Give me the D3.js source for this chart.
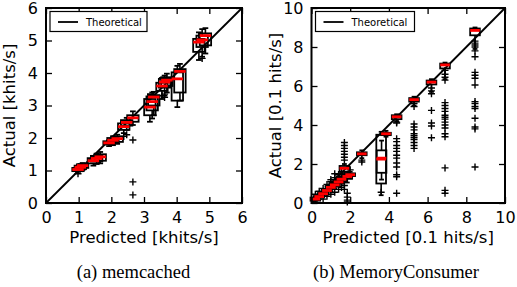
<!DOCTYPE html>
<html>
<head>
    <title>Predicted vs actual</title>
    <style>
        body { margin: 0; background: #fff; }
        svg { display: block; }
        .tick text { font-family: "DejaVu Sans", sans-serif; }
    </style>
    <script src="https://d3js.org/d3.v7.min.js"></script>
</head>
<body>
<svg id="chart"></svg>
<script>
    // memcached boxes (one entry per predicted position), khits/s
    const memPos = [0.98, 1.05, 1.12, 1.45, 1.55, 1.66, 1.93, 2.05, 2.18, 2.38, 2.47, 2.66,
        3.18, 3.25, 3.30, 3.55, 3.63, 3.70, 4.02, 4.10, 4.68, 4.78, 4.88];
    const memLo = [0.92, 0.98, 1.02, 1.15, 1.20, 1.22, 1.75, 1.78, 1.82, 2.15, 2.25, 2.40,
        2.50, 2.60, 2.70, 3.20, 3.30, 3.40, 2.95, 3.15, 4.40, 4.50, 4.60];
    const memQ1 = [0.98, 1.04, 1.08, 1.22, 1.28, 1.30, 1.80, 1.85, 1.88, 2.25, 2.38, 2.50,
        2.70, 2.85, 3.00, 3.45, 3.55, 3.60, 3.15, 3.40, 4.65, 4.80, 4.85];
    const memMed = [1.03, 1.10, 1.15, 1.30, 1.37, 1.42, 1.85, 1.93, 1.98, 2.35, 2.48, 2.62,
        2.95, 3.12, 3.26, 3.60, 3.72, 3.78, 3.82, 4.05, 4.95, 5.02, 5.15];
    const memQ3 = [1.08, 1.15, 1.19, 1.38, 1.45, 1.50, 1.90, 2.00, 2.05, 2.45, 2.55, 2.70,
        3.20, 3.28, 3.32, 3.70, 3.82, 3.87, 4.02, 4.12, 5.05, 5.15, 5.22];
    const memHi = [1.12, 1.20, 1.23, 1.45, 1.52, 1.57, 1.93, 2.05, 2.10, 2.52, 2.62, 2.82,
        3.35, 3.40, 3.42, 3.85, 3.92, 3.98, 4.22, 4.28, 5.25, 5.35, 5.38];
    const memFliers = [[0.90], [], [], [], [], [], [], [], [], [2.05], [2.10], [1.94, 0.65, 0.25],
        [], [], [], [3.30], [3.25, 3.35], [], [], [], [], [4.45], []];

    // MemoryConsumer boxes, 0.1 hits/s
    const mcPos = [0.2, 0.4, 0.6, 0.8, 1.0, 1.2, 1.4, 1.55, 1.7, 1.85, 2.0, 2.6,
        3.6, 3.62, 3.85, 4.4, 5.3, 6.2, 6.9, 8.45];
    const mcLo = [0.05, 0.20, 0.35, 0.48, 0.60, 0.72, 0.85, 1.00, 1.30, 1.05, 1.25, 2.30,
        0.40, 1.20, 3.40, 4.20, 5.00, 5.70, 6.35, 7.90];
    const mcQ1 = [0.12, 0.28, 0.42, 0.58, 0.72, 0.85, 1.00, 1.12, 1.60, 1.25, 1.38, 2.45,
        1.00, 1.55, 3.48, 4.30, 5.20, 6.08, 6.90, 8.60];
    const mcMed = [0.20, 0.33, 0.48, 0.64, 0.80, 0.93, 1.08, 1.22, 1.78, 1.36, 1.45, 2.52,
        2.25, 2.30, 3.55, 4.42, 5.30, 6.20, 7.08, 8.85];
    const mcQ3 = [0.28, 0.40, 0.55, 0.72, 0.88, 1.02, 1.18, 1.32, 1.90, 1.45, 1.52, 2.60,
        3.50, 2.70, 3.60, 4.50, 5.38, 6.28, 7.15, 8.95];
    const mcHi = [0.35, 0.50, 0.68, 0.85, 1.02, 1.20, 1.35, 1.50, 2.00, 1.60, 1.60, 2.70,
        3.65, 3.20, 3.70, 4.55, 5.45, 6.35, 7.20, 9.00];
    const mcFliers = [[0.45], [0.6], [0.75, 0.2], [0.95, 0.35], [1.1, 1.2, 0.45], [1.5, 1.3, 0.55], [1.45, 0.7], [1.6, 0.8],
        [2.2, 2.35, 2.5, 2.65, 2.8, 2.95, 3.1, 0.9, 0.7],
        [0.5, 0.3, 0.15, 0.05], [1.7], [2.2, 2.1],
        [0.55], [], [],
        [4.15, 4.1, 3.3, 3.15, 2.95, 2.8, 2.65, 2.45, 2.3, 2.05, 1.85, 1.45, 1.35, 0.5],
        [5.1, 4.95, 4.05, 3.9, 3.75, 3.55, 3.45, 3.35, 3.25, 3.1, 2.95, 2.8],
        [5.9, 5.75, 5.6, 4.75, 4.1, 3.95, 3.35],
        [6.8, 6.6, 6.45, 6.3, 5.15, 5.0, 4.85, 4.7, 4.5, 4.4, 4.3, 4.15, 4.0, 3.85, 3.55, 3.4, 1.8, 0.65, 0.5],
        [8.3, 8.2, 8.1, 8.0, 7.8, 7.5, 6.7, 6.55, 6.4, 6.05, 5.2, 5.1, 4.95, 4.85, 4.35, 3.9, 3.8, 1.85]];

    const memTicks = [0, 1, 2, 3, 4, 5, 6];
    const mcTicks = [0, 2, 4, 6, 8, 10];

    const svg = d3.select('#chart').attr('width', 517).attr('height', 287);

    function panel(opts) {
        const x = d3.scaleLinear().domain([0, opts.max]).range([opts.left, opts.right]);
        const y = d3.scaleLinear().domain([0, opts.max]).range([203, 8]);
        const g = svg.append('g');

        // theoretical line
        g.append('line')
            .attr('x1', x(0)).attr('y1', y(0))
            .attr('x2', x(opts.max)).attr('y2', y(opts.max))
            .attr('stroke', '#000').attr('stroke-width', 1.8);

        const half = opts.width / 2;
        const boxes = opts.pos.map((p, i) => ({
            p, lo: opts.lo[i], q1: opts.q1[i], med: opts.med[i], q3: opts.q3[i], hi: opts.hi[i], fl: opts.fliers[i]
        }));

        const b = g.selectAll('.box').data(boxes).enter().append('g').attr('class', 'box');
        // whiskers
        b.append('line').attr('x1', d => x(d.p)).attr('x2', d => x(d.p))
            .attr('y1', d => y(d.q1)).attr('y2', d => y(d.lo))
            .attr('stroke', '#000').attr('stroke-width', 1.6);
        b.append('line').attr('x1', d => x(d.p)).attr('x2', d => x(d.p))
            .attr('y1', d => y(d.q3)).attr('y2', d => y(d.hi))
            .attr('stroke', '#000').attr('stroke-width', 1.6);
        // caps
        b.append('line').attr('x1', d => x(d.p - half / 2)).attr('x2', d => x(d.p + half / 2))
            .attr('y1', d => y(d.lo)).attr('y2', d => y(d.lo))
            .attr('stroke', '#000').attr('stroke-width', 1.8);
        b.append('line').attr('x1', d => x(d.p - half / 2)).attr('x2', d => x(d.p + half / 2))
            .attr('y1', d => y(d.hi)).attr('y2', d => y(d.hi))
            .attr('stroke', '#000').attr('stroke-width', 1.8);
        // box
        b.append('rect')
            .attr('x', d => x(d.p - half)).attr('width', d => x(d.p + half) - x(d.p - half))
            .attr('y', d => y(d.q3)).attr('height', d => y(d.q1) - y(d.q3))
            .attr('fill', 'none').attr('stroke', '#000').attr('stroke-width', 1.8);
        // fliers
        b.each(function (d) {
            d3.select(this).selectAll('.fl').data(d.fl).enter().append('path')
                .attr('d', v => `M${x(d.p) - 3.5},${y(v)}h7M${x(d.p)},${y(v) - 3.5}v7`)
                .attr('stroke', '#000').attr('stroke-width', 1.4);
        });
        // medians on top
        g.selectAll('.med').data(boxes).enter().append('line')
            .attr('x1', d => x(d.p - half)).attr('x2', d => x(d.p + half))
            .attr('y1', d => y(d.med)).attr('y2', d => y(d.med))
            .attr('stroke', '#ff0000').attr('stroke-width', 2.8);

        // axes with inward ticks on all four sides
        const fmt = d3.format('d');
        g.append('g').attr('transform', 'translate(0,203)')
            .call(d3.axisBottom(x).tickValues(opts.ticks).tickFormat(fmt).tickSize(-6).tickPadding(9));
        g.append('g').attr('transform', 'translate(0,8)')
            .call(d3.axisTop(x).tickValues(opts.ticks).tickFormat('').tickSize(-6));
        g.append('g').attr('transform', `translate(${opts.left},0)`)
            .call(d3.axisLeft(y).tickValues(opts.ticks).tickFormat(fmt).tickSize(-6).tickPadding(8));
        g.append('g').attr('transform', `translate(${opts.right},0)`)
            .call(d3.axisRight(y).tickValues(opts.ticks).tickFormat('').tickSize(-6));
        g.selectAll('.domain').remove();
        g.selectAll('.tick line').attr('stroke', '#000').attr('stroke-width', 1.3);
        g.selectAll('.tick text').attr('font-size', 16).attr('fill', '#000');

        g.append('rect')
            .attr('x', opts.left).attr('y', 8)
            .attr('width', opts.right - opts.left).attr('height', 195)
            .attr('fill', 'none').attr('stroke', '#000').attr('stroke-width', 2);

        // axis labels
        g.append('text')
            .attr('x', (opts.left + opts.right) / 2).attr('y', 243)
            .attr('text-anchor', 'middle')
            .attr('font-family', 'DejaVu Sans, sans-serif').attr('font-size', 16.5)
            .text(opts.xLabel);
        g.append('text')
            .attr('transform', `translate(${opts.left - 31},${105.5}) rotate(-90)`)
            .attr('text-anchor', 'middle')
            .attr('font-family', 'DejaVu Sans, sans-serif').attr('font-size', 16.5)
            .text(opts.yLabel);

        // legend
        const lg = g.append('g');
        lg.append('rect')
            .attr('x', opts.left + 4).attr('y', 11.5).attr('width', opts.legendW).attr('height', 20)
            .attr('fill', '#fff').attr('stroke', '#000').attr('stroke-width', 1.2);
        lg.append('line')
            .attr('x1', opts.left + 12).attr('x2', opts.left + 32)
            .attr('y1', 22).attr('y2', 22)
            .attr('stroke', '#000').attr('stroke-width', 1.8);
        lg.append('text')
            .attr('x', opts.left + 40).attr('y', 25.5)
            .attr('font-family', 'DejaVu Sans, sans-serif').attr('font-size', 10)
            .text('Theoretical');

        // caption
        g.append('text')
            .attr('x', opts.capX).attr('y', 278)
            .attr('text-anchor', 'middle')
            .attr('font-family', 'Liberation Serif, serif').attr('font-size', 18.5)
            .text(opts.caption);
    }

    panel({
        left: 46, right: 242, max: 6, width: 0.35, ticks: memTicks,
        pos: memPos, lo: memLo, q1: memQ1, med: memMed, q3: memQ3, hi: memHi, fliers: memFliers,
        xLabel: 'Predicted [khits/s]', yLabel: 'Actual [khits/s]',
        legendW: 97, caption: '(a) memcached', capX: 133.5
    });
    panel({
        left: 311.5, right: 505, max: 10, width: 0.5, ticks: mcTicks,
        pos: mcPos, lo: mcLo, q1: mcQ1, med: mcMed, q3: mcQ3, hi: mcHi, fliers: mcFliers,
        xLabel: 'Predicted [0.1 hits/s]', yLabel: 'Actual [0.1 hits/s]',
        legendW: 99, caption: '(b) MemoryConsumer', capX: 396
    });
</script>
</body>
</html>
